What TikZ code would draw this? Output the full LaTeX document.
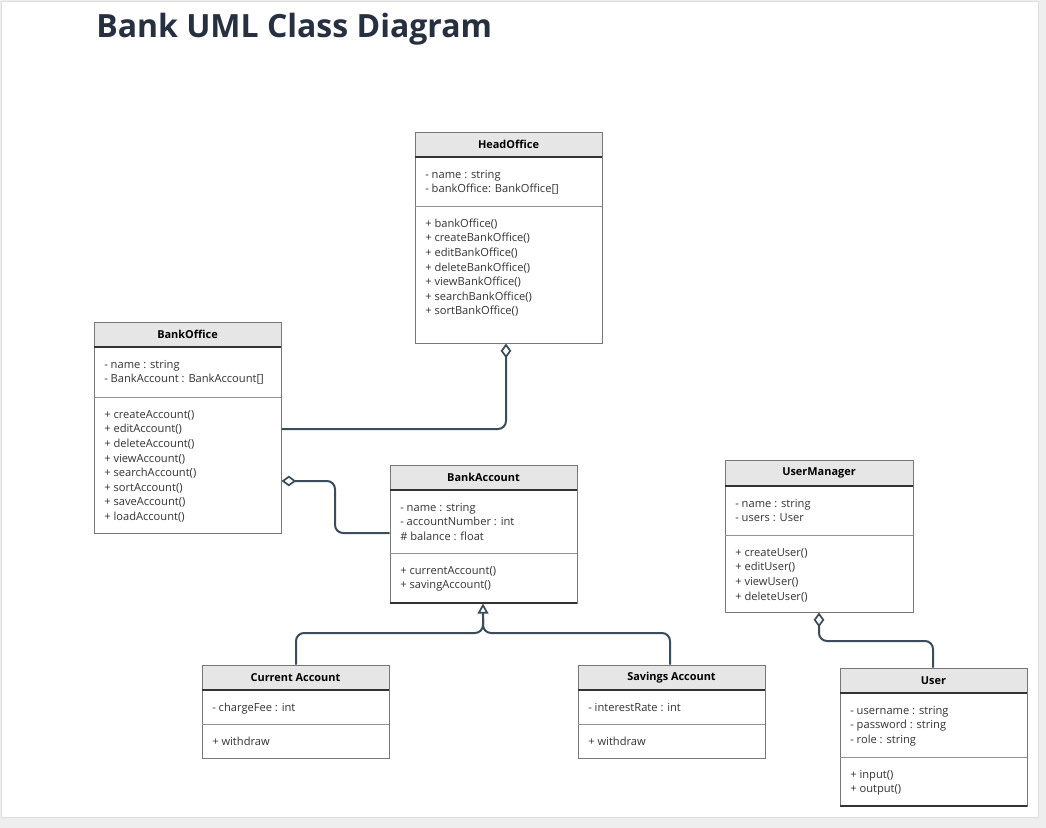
\documentclass[tikz,border=0pt]{standalone}
\usepackage{fontspec}
\setmainfont{Open Sans}
\usetikzlibrary{arrows.meta,fit}
\definecolor{bgout}{HTML}{EEEEEE}
\definecolor{bgline}{HTML}{DDDDDD}
\definecolor{hdrfill}{HTML}{E6E6E6}
\definecolor{boxc}{HTML}{777777}
\definecolor{darkl}{HTML}{333333}
\definecolor{txtc}{HTML}{333333}
\definecolor{connc}{HTML}{3B4D5A}
\definecolor{titlec}{HTML}{263040}
\tikzset{
  txt/.style={anchor=base west,inner sep=0pt,font=\fontsize{8.35}{9}\selectfont,text=txtc},
  ttl/.style={inner sep=0pt,font=\fontsize{8.2}{9}\selectfont\bfseries,text=black},
  hline/.style={draw=darkl,line width=1.3pt},
  sline/.style={draw=boxc!80,line width=0.75pt},
  conn/.style={draw=connc,line width=1.5pt,rounded corners=6pt},
  agg/.style={-{Diamond[open,fill=white,length=11pt,width=8pt,line width=1.3pt]}},
  gen/.style={-{Triangle[open,fill=white,length=7.5pt,width=8pt,line width=1.3pt]}},
}
\newcommand\umlclass[8]{%
  \fill[hdrfill] (#2,#3) rectangle (#4,#6);
  \node[fit={(#2,#3)(#4,#5)},inner sep=0pt,draw=boxc,line width=0.75pt] (#1) {};
  \node[ttl] (#1-t) at ({(#2+#4)/2},{(#3+#6)/2}) {#8};
  \draw[hline] (#2,#6) -- (#4,#6);
  \draw[sline] (#2,#7) -- (#4,#7);
}
\newcommand\umllines[4]{%
  \foreach \t [count=\i from 0] in {#4}
    \node[txt] (#1\i) at ({#2+10},{#3+21.3+\i*14.6}) {\t};
}
\begin{document}
\begin{tikzpicture}[x=0.75pt,y=-0.75pt]
\useasboundingbox (0,0) rectangle (1046,828);
\fill[bgout] (0,0) rectangle (1046,828);
\filldraw[fill=white,draw=bgline,line width=0.75pt] (1,1) rectangle (1038,817);
\node[anchor=base west,inner sep=0pt,font=\fontsize{24}{30}\selectfont\bfseries,text=titlec] (title) at (96,37.5) {Bank UML Class Diagram};

% HeadOffice
\umlclass{ho}{415}{132}{602}{343}{157}{206}{HeadOffice}
\umllines{hoa}{415}{157}{{- name : string},{- bankOffice: BankOffice[]}}
\umllines{hom}{415}{206}{{+ bankOffice()},{+ createBankOffice()},{+ editBankOffice()},{+ deleteBankOffice()},{+ viewBankOffice()},{+ searchBankOffice()},{+ sortBankOffice()}}

% BankOffice
\umlclass{bo}{94}{322}{281}{533}{347}{397}{BankOffice}
\umllines{boa}{94}{347}{{- name : string},{- BankAccount : BankAccount[]}}
\umllines{bom}{94}{397}{{+ createAccount()},{+ editAccount()},{+ deleteAccount()},{+ viewAccount()},{+ searchAccount()},{+ sortAccount()},{+ saveAccount()},{+ loadAccount()}}

% BankAccount
\umlclass{ba}{390}{465}{577}{603}{490}{553}{BankAccount}
\draw[hline] (390,603) -- (577,603);
\umllines{baa}{390}{490}{{- name : string},{- accountNumber : int},{\# balance : float}}
\umllines{bam}{390}{553}{{+ currentAccount()},{+ savingAccount()}}

% UserManager
\umlclass{um}{725}{460}{913}{612}{486}{535}{UserManager}
\umllines{uma}{725}{486}{{- name : string},{- users : User}}
\umllines{umm}{725}{535}{{+ createUser()},{+ editUser()},{+ viewUser()},{+ deleteUser()}}

% User
\umlclass{us}{840}{668}{1027}{806}{693}{757}{User}
\draw[hline] (840,806) -- (1027,806);
\umllines{usa}{840}{693}{{- username : string},{- password : string},{- role : string}}
\umllines{usm}{840}{757}{{+ input()},{+ output()}}

% Current Account
\umlclass{ca}{202}{665}{389}{758}{690}{724}{Current Account}
\umllines{caa}{202}{690}{{- chargeFee : int}}
\umllines{cam}{202}{724}{{+ withdraw}}

% Savings Account
\umlclass{sa}{578}{665}{765}{758}{690}{724}{Savings Account}
\umllines{saa}{578}{690}{{- interestRate : int}}
\umllines{sam}{578}{724}{{+ withdraw}}

% connectors
\coordinate (p1) at (506,429);
\coordinate (p2) at (335,533);
\coordinate (p3) at (335,481);
\coordinate (p4) at (483,633);
\coordinate (p4b) at (483,618);
\coordinate (p5) at (296,633);
\coordinate (p6) at (670,633);
\coordinate (p7) at (819,641);
\coordinate (p8) at (933,641);

\draw[conn,agg] (bo.east|-p1) -- (p1) -- (ho.south-|p1);
\draw[conn,agg] (ba.west|-p2) -- (p2) -- (p3) -- (bo.east|-p3);
\draw[conn,gen] (ca.north-|p5) -- (p5) -- (p4) -- (ba.south-|p4);
\draw[conn] (sa.north-|p6) -- (p6) -- (p4) -- (p4b);
\draw[conn,agg] (us.north-|p8) -- (p8) -- (p7) -- (um.south-|p7);
\end{tikzpicture}
\end{document}
